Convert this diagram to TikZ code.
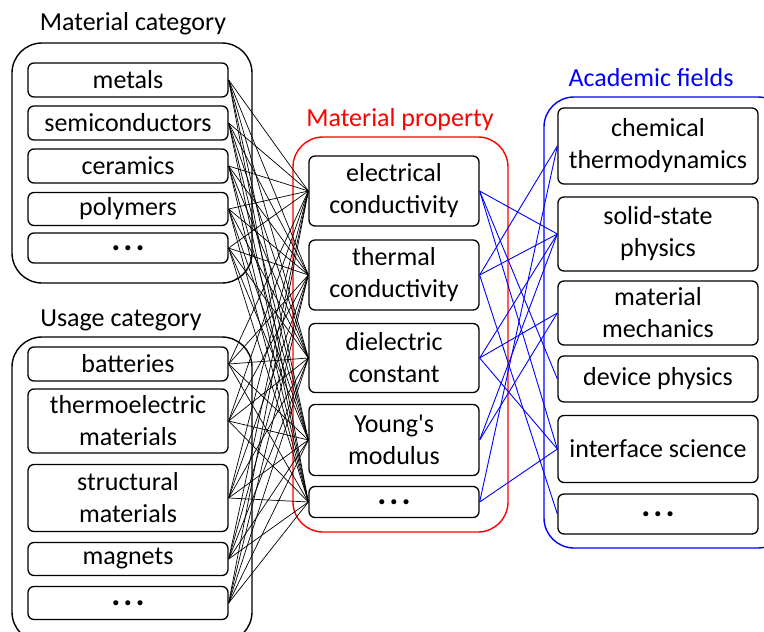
\documentclass[tikz,border=0pt]{standalone}
\usepackage{fontspec}
\setmainfont{Carlito}
\newcommand{\mydots}{{\bfseries\fontsize{34}{34}\selectfont .\hspace{3pt}.\hspace{3pt}.}}
\begin{document}
\begin{tikzpicture}[x=1pt,y=-1pt,
  ibox/.style={draw=black,line width=1.3pt,rounded corners=6pt,minimum width=200pt,align=center,inner sep=0pt,font=\fontsize{26}{32}\selectfont},
  mbox/.style={ibox,minimum width=170pt},
  frame/.style={line width=1.4pt,rounded corners=30pt},
  ttl/.style={font=\fontsize{26}{32}\selectfont,inner sep=0pt},
  bl/.style={line width=0.7pt,black},
  bu/.style={line width=0.9pt,blue}]
\useasboundingbox (0,0) rectangle (764,632);
% frames
\draw[frame] (12,43) rectangle (252,283);
\draw[frame] (12,337) rectangle (252,642);
\draw[frame,red] (293,137) rectangle (508,532);
\draw[frame,blue] (544,97) rectangle (788,548);
% titles
\node[ttl] (t1) at (133,24) {Material category};
\node[ttl] (t2) at (121,320) {Usage category};
\node[ttl,text=red] (t3) at (400,120) {Material property};
\node[ttl,text=blue] (t4) at (651,78) {Academic fields};
% left boxes
\node[ibox,minimum height=34pt] (a1) at (128,80) {metals};
\node[ibox,minimum height=34pt] (a2) at (128,123) {semiconductors};
\node[ibox,minimum height=34pt] (a3) at (128,166) {ceramics};
\node[ibox,minimum height=33pt] (a4) at (128,209) {polymers};
\node[ibox,minimum height=30pt] (a5) at (128,248) {\mydots};
\node[ibox,minimum height=34pt] (b1) at (128,364) {batteries};
\node[ibox,minimum height=64pt] (b2) at (128,421) {thermoelectric\\materials};
\node[ibox,minimum height=67pt] (b3) at (128,498) {structural\\materials};
\node[ibox,minimum height=33pt] (b4) at (128,559) {magnets};
\node[ibox,minimum height=33pt] (b5) at (128,603) {\mydots};
% middle boxes
\node[mbox,minimum height=70pt] (p1) at (394,191) {electrical\\conductivity};
\node[mbox,minimum height=70pt] (p2) at (394,275) {thermal\\conductivity};
\node[mbox,minimum height=69pt] (p3) at (394,358) {dielectric\\constant};
\node[mbox,minimum height=71pt] (p4) at (394,440) {Young\textquotesingle s\\modulus};
\node[mbox,minimum height=31pt] (p5) at (394,502) {\mydots};
% right boxes
\node[ibox,minimum height=76pt] (f1) at (658,146) {chemical\\thermodynamics};
\node[ibox,minimum height=74pt] (f2) at (658,234) {solid-state\\physics};
\node[ibox,minimum height=64pt] (f3) at (658,313) {material\\mechanics};
\node[ibox,minimum height=46pt] (f4) at (658,379) {device physics};
\node[ibox,minimum height=67pt] (f5) at (658,449) {interface science};
\node[ibox,minimum height=40pt] (f6) at (658,514) {\mydots};
% black connectors
\foreach \s in {a1,a2,a3,a4,a5,b1,b2,b3,b4,b5}
  \foreach \t in {p1,p2,p3,p4,p5}
    \draw[bl] (\s.east) -- (\t.west);
% blue connectors
\foreach \s/\t in {p1/f2,p1/f4,p1/f5,p2/f1,p2/f2,p2/f6,p3/f2,p3/f3,p3/f5,p4/f2,p4/f3,p5/f1,p5/f5}
  \draw[bu] (\s.east) -- (\t.west);
\end{tikzpicture}
\end{document}
